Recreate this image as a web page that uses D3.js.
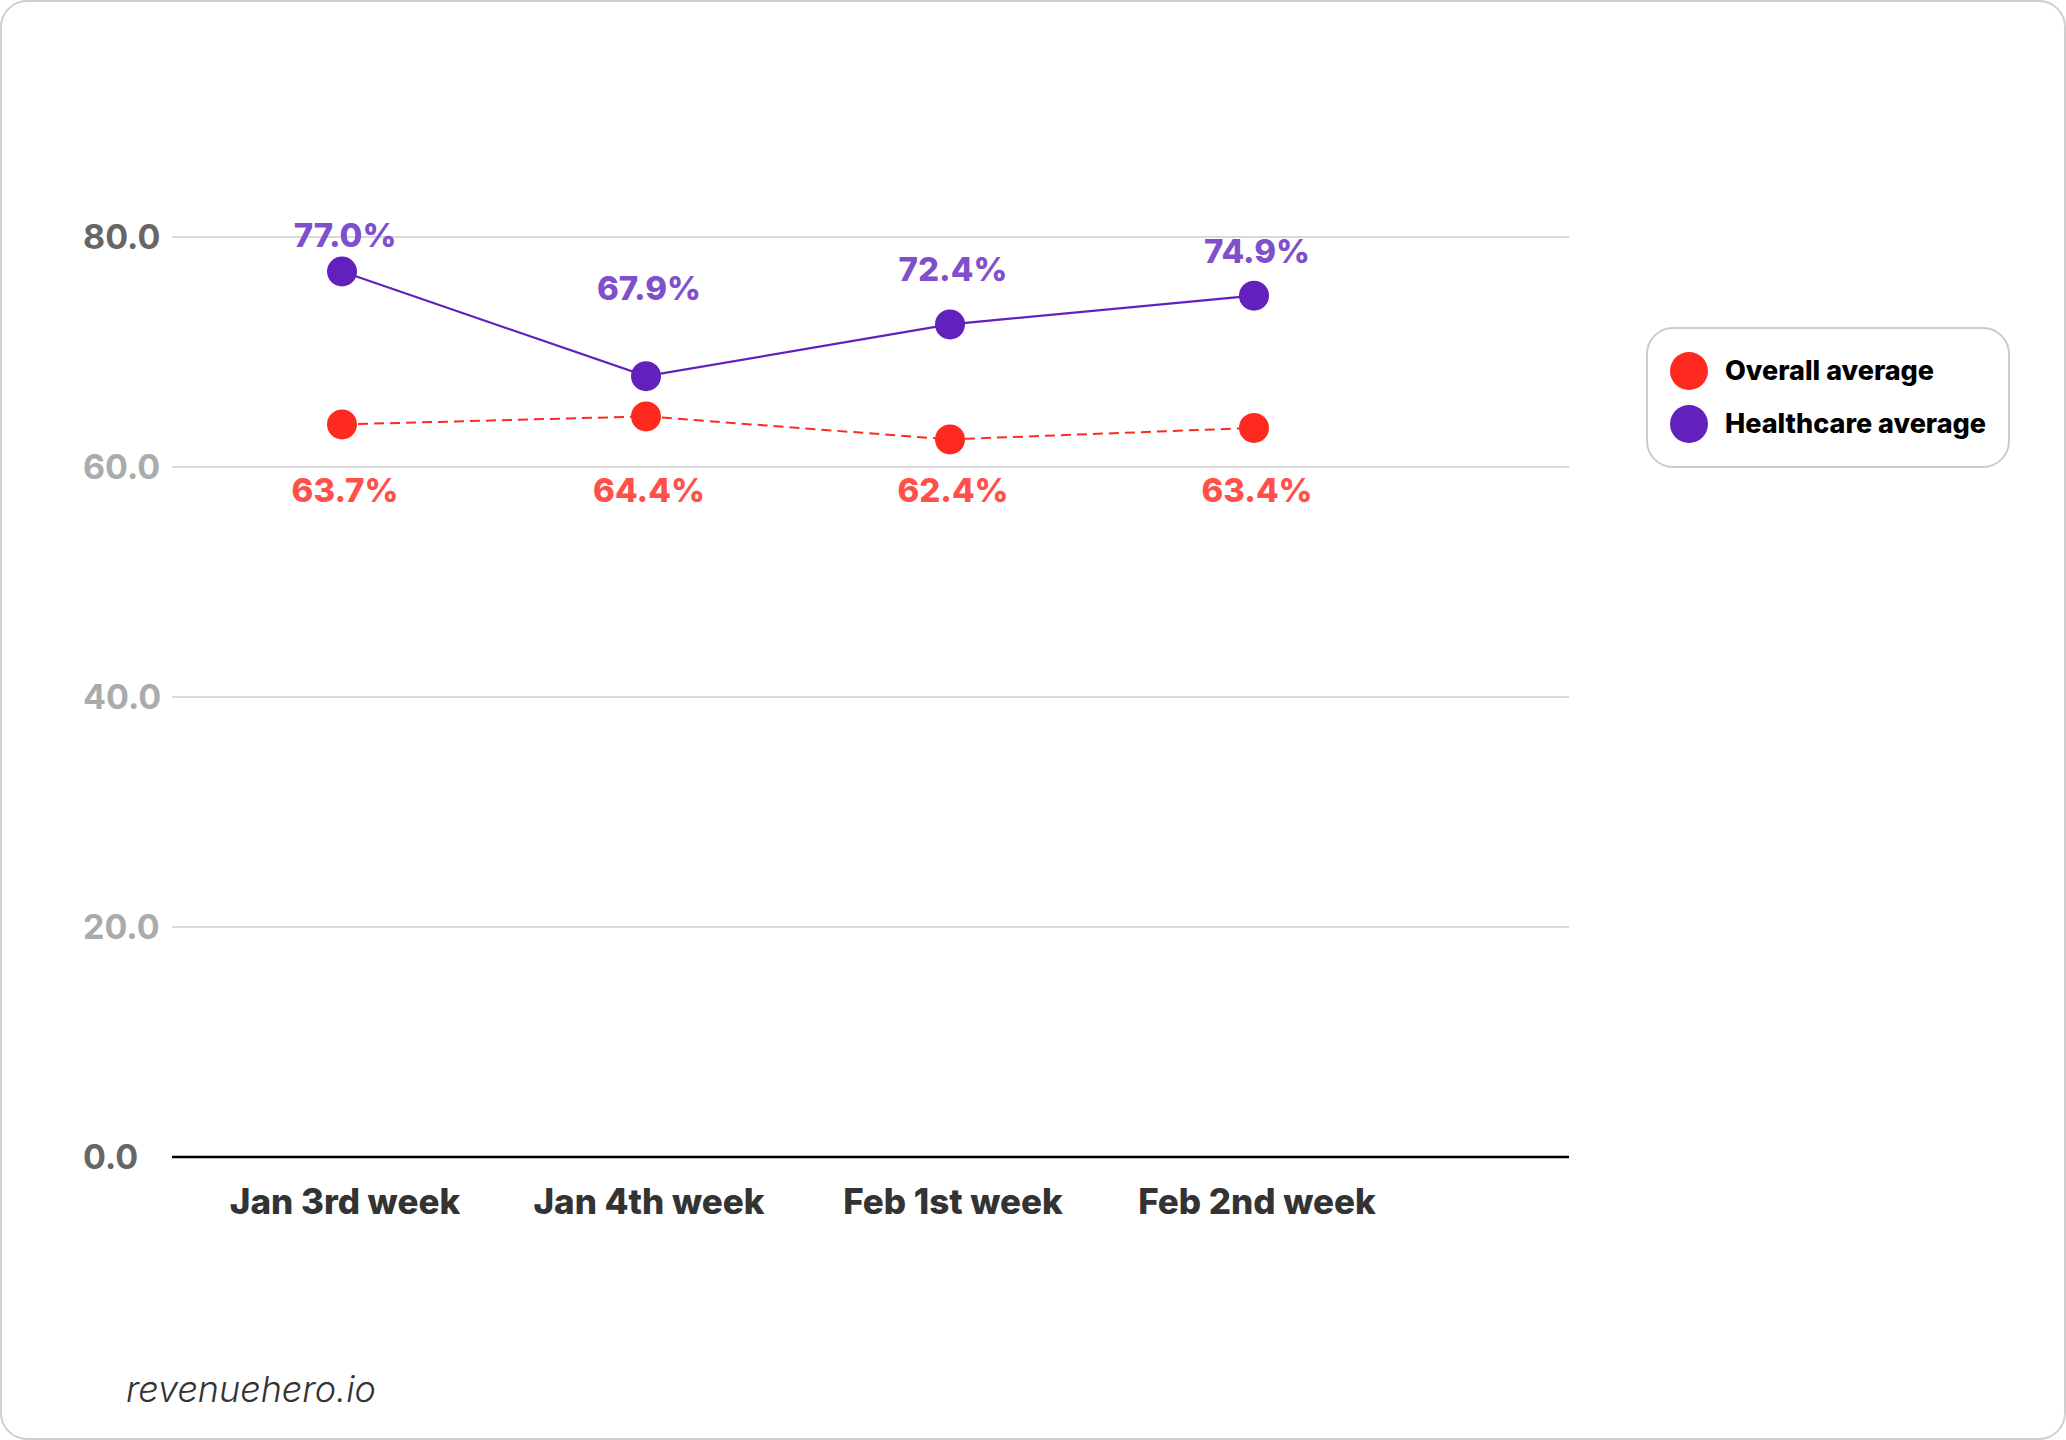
<!DOCTYPE html>
<html>
<head>
<meta charset="utf-8">
<script src="https://cdn.jsdelivr.net/npm/d3@7"></script>
<style>
  body { margin: 0; background: #fff; }
  text { font-family: Inter, "Open Sans", sans-serif; }
</style>
</head>
<body>
<svg width="2066" height="1440"></svg>
<script>
const svg = d3.select("svg");
const width = +svg.attr("width");
const height = +svg.attr("height");

// Data
const weeks = ["Jan 3rd week", "Jan 4th week", "Feb 1st week", "Feb 2nd week"];
const overall = [63.7, 64.4, 62.4, 63.4];
const healthcare = [77.0, 67.9, 72.4, 74.9];
const yTicks = [0, 20, 40, 60, 80];
const seriesNames = ["Overall average", "Healthcare average"];

// label lift above the purple points (layout only)
const hcLabelLift = [25, 76, 43, 33];

const red = "#ff2a1f", redText = "#ff5049";
const purple = "#6420bd", purpleText = "#7f4fcc";

// card
svg.append("rect")
  .attr("x", 1).attr("y", 1)
  .attr("width", width - 2).attr("height", height - 2)
  .attr("rx", 26)
  .attr("fill", "#fff")
  .attr("stroke", "#cfcfcf")
  .attr("stroke-width", 2);

const plotLeft = 172, plotRight = 1569;

const x = d3.scalePoint()
  .domain(weeks)
  .range([342, 1254]);

const y = d3.scaleLinear()
  .domain([0, 80])
  .range([1157, 237]);

// gridlines
svg.append("g")
  .selectAll("line")
  .data(yTicks.filter(d => d > 0))
  .join("line")
  .attr("x1", plotLeft).attr("x2", plotRight)
  .attr("y1", d => y(d)).attr("y2", d => y(d))
  .attr("stroke", "#cccccc")
  .attr("stroke-width", 1.6);

// baseline
svg.append("line")
  .attr("x1", plotLeft).attr("x2", plotRight)
  .attr("y1", y(0)).attr("y2", y(0))
  .attr("stroke", "#000")
  .attr("stroke-width", 2.5);

// y tick labels
svg.append("g")
  .selectAll("text")
  .data(yTicks)
  .join("text")
  .attr("x", 83)
  .attr("y", d => y(d) + 12)
  .attr("font-size", 34)
  .attr("font-weight", 700)
  .attr("fill", d => (d === 0 || d === 80) ? "#666" : "#ababab")
  .text(d => d.toFixed(1));

// x labels
svg.append("g")
  .selectAll("text")
  .data(weeks)
  .join("text")
  .attr("x", d => x(d) + 3)
  .attr("y", 1214)
  .attr("text-anchor", "middle")
  .attr("font-size", 35)
  .attr("font-weight", 800)
  .attr("fill", "#333")
  .text(d => d);

const line = d3.line()
  .x((d, i) => x(weeks[i]))
  .y(d => y(d));

// overall (dashed)
svg.append("path")
  .datum(overall)
  .attr("d", line)
  .attr("fill", "none")
  .attr("stroke", red)
  .attr("stroke-width", 2)
  .attr("stroke-dasharray", "10,6");

// healthcare
svg.append("path")
  .datum(healthcare)
  .attr("d", line)
  .attr("fill", "none")
  .attr("stroke", purple)
  .attr("stroke-width", 2.2);

svg.append("g")
  .selectAll("circle")
  .data(overall)
  .join("circle")
  .attr("cx", (d, i) => x(weeks[i]))
  .attr("cy", d => y(d))
  .attr("r", 15)
  .attr("fill", red);

svg.append("g")
  .selectAll("circle")
  .data(healthcare)
  .join("circle")
  .attr("cx", (d, i) => x(weeks[i]))
  .attr("cy", d => y(d))
  .attr("r", 15)
  .attr("fill", purple);

// value labels
svg.append("g")
  .selectAll("text")
  .data(healthcare)
  .join("text")
  .attr("x", (d, i) => x(weeks[i]) + 3)
  .attr("y", (d, i) => y(d) - hcLabelLift[i])
  .attr("text-anchor", "middle")
  .attr("font-size", 33)
  .attr("font-weight", 800)
  .attr("fill", purpleText)
  .text(d => d.toFixed(1) + "%");

svg.append("g")
  .selectAll("text")
  .data(overall)
  .join("text")
  .attr("x", (d, i) => x(weeks[i]) + 3)
  .attr("y", y(60) + 35)
  .attr("text-anchor", "middle")
  .attr("font-size", 33)
  .attr("font-weight", 800)
  .attr("fill", redText)
  .text(d => d.toFixed(1) + "%");

// legend
const legend = svg.append("g");
legend.append("rect")
  .attr("x", 1647).attr("y", 328)
  .attr("width", 362).attr("height", 139)
  .attr("rx", 26)
  .attr("fill", "#fff")
  .attr("stroke", "#cccccc")
  .attr("stroke-width", 2);

const items = legend.selectAll("g.item")
  .data(seriesNames)
  .join("g")
  .attr("class", "item")
  .attr("transform", (d, i) => `translate(1689,${371 + i * 53})`);

items.append("circle")
  .attr("r", 19)
  .attr("fill", (d, i) => i === 0 ? red : purple);

items.append("text")
  .attr("x", 36)
  .attr("y", 9)
  .attr("font-size", 27)
  .attr("font-weight", 800)
  .attr("fill", "#000")
  .text(d => d);

// footer
svg.append("text")
  .attr("x", 126)
  .attr("y", 1402)
  .attr("font-size", 36)
  .attr("font-style", "italic")
  .attr("font-weight", 300)
  .attr("fill", "#333")
  .text("revenuehero.io");
</script>
</body>
</html>
